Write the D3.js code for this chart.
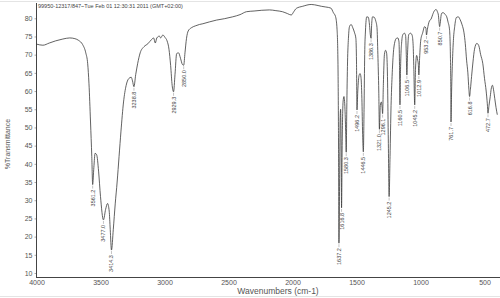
<!DOCTYPE html>
<html>
<head>
<meta charset="utf-8">
<script src="https://cdn.jsdelivr.net/npm/d3@7"></script>
<style>
  body { margin: 0; background: #fff; }
  svg { display: block; font-family: "Liberation Sans", Arial, sans-serif; }
</style>
</head>
<body>
<svg id="chart" width="500" height="298"></svg>
<script>
// spectrum: wavenumber (cm-1) and %T
const wavenumbers = [4000, 3950, 3900, 3850, 3794, 3740, 3700, 3670, 3640, 3615, 3600, 3590, 3578, 3568, 3561.2, 3552, 3542, 3530, 3515, 3500, 3477, 3460, 3445, 3432, 3424, 3414.3, 3400, 3385, 3370, 3355, 3340, 3320, 3300, 3280, 3260, 3250, 3238.8, 3225, 3210, 3190, 3160, 3130, 3100, 3085, 3072, 3060, 3040, 3030, 3013, 2995, 2980, 2965, 2952, 2940, 2929.3, 2918, 2905, 2890, 2875, 2860, 2850, 2840, 2828, 2815, 2790, 2760, 2727,
  2700, 2650, 2594, 2530, 2467, 2410, 2360, 2300, 2240, 2180, 2130, 2078, 2040, 2010, 1990, 1971, 1920, 1854, 1800, 1775, 1740, 1700, 1680, 1664, 1652, 1645, 1641, 1637.2, 1632, 1628, 1624, 1620, 1616.8, 1612, 1605, 1598, 1590, 1584, 1580.3, 1576, 1570, 1563, 1555, 1542, 1529, 1515, 1505, 1500, 1496.2, 1490, 1480, 1472, 1465, 1458, 1452, 1446.5, 1441, 1436, 1430, 1420, 1408, 1398, 1392, 1386.3, 1382, 1375, 1362, 1350, 1340, 1333, 1326, 1321, 1314, 1306, 1300, 1296.1, 1290, 1282, 1273, 1265, 1258, 1252, 1245.2, 1238, 1230, 1222, 1212, 1203, 1188, 1177, 1168, 1164, 1160.5, 1156, 1148, 1138, 1125, 1116, 1111, 1106.5, 1101, 1092, 1078, 1066, 1058, 1052, 1045.2, 1039, 1030, 1022, 1017, 1012.9, 1007, 998, 983, 968, 958, 953.2, 946, 930, 917, 905, 891, 878, 868, 860, 854, 850.7, 846, 838, 831, 820, 806, 795, 785, 773, 766, 763, 761.7, 757, 750, 742, 733, 720, 705, 690, 675, 660, 650, 640, 630, 622, 616.8, 610, 601, 590, 578, 560, 545, 530, 513, 500, 487, 478, 472.7, 465, 455, 448, 438, 430, 420, 410, 400];
const transmittance = [72.9, 72.6, 73.2, 73.8, 74.3, 74.6, 74.4, 73.9, 72.8, 70.5, 67.5, 62, 51.5, 42, 34.3, 39, 42.9, 42.5, 38, 31, 24.6, 27.5, 29.1, 27, 22, 16.3, 22, 29, 35, 42, 49, 57, 61.5, 63.4, 63.8, 62.8, 61.2, 64.5, 67.5, 70.5, 72.2, 73, 74.2, 74.6, 73.2, 74.6, 75.1, 74.6, 75.4, 74.7, 73.8, 71.5, 67, 61.5, 59.8, 64.5, 70.3, 70.5, 69, 67.3, 67.1, 70.5, 74.5, 76.5, 77.4, 77.9, 78.3,
  78.5, 79.0, 79.5, 79.9, 80.4, 81.0, 81.8, 82.0, 82.2, 82.3, 82.1, 81.8, 81.3, 80.9, 81.8, 82.7, 83.3, 83.8, 83.5, 83.3, 83.1, 82.8, 81.5, 80.5, 77, 68, 50, 18.2, 35, 52, 55, 45, 27.9, 45, 57, 58.5, 55, 48, 43.2, 55, 68, 74.5, 77.7, 78.3, 77.4, 76, 74.5, 68, 54.8, 60, 64.3, 64.8, 63.8, 58, 48, 43.3, 55, 70, 76.5, 80.4, 80.3, 78, 75.5, 74.5, 78, 80.4, 80.3, 79.3, 77.5, 70, 60, 49.5, 56, 57, 55.5, 53.8, 62, 70, 71.2, 70.5, 64, 48, 31, 42, 56, 64, 70.5, 73.1, 74.5, 74.6, 73.5, 67, 56.2, 66, 73, 75.5, 75.9, 75.2, 70, 64.4, 70.5, 75.5, 75.9, 75.4, 73, 66, 56.2, 66, 69.8, 68.5, 67.3, 64.4, 69, 74, 76, 77.7, 77.3, 75.4, 77, 79.3, 79.8, 81, 82.1, 82.4, 81.8, 80.8, 78.5, 77.7, 78.6, 81, 81.5, 81.5, 81, 80.4, 79, 76.8, 69, 60, 51.5, 60, 68.5, 74.5, 77.7, 80.2, 80.4, 79.6, 78.2, 76, 73, 68.5, 65, 60.5, 58.5, 60.5, 64, 68, 71.5, 73.1, 72.5, 70, 67.5, 63.5, 60, 56.5, 53.9, 56, 58.5, 60.5, 61.6, 60.5, 58, 55.5, 53.5];

// labelled peaks
const peakLabels = ["3561.2", "3477.0", "3414.3", "3238.8", "2929.3", "2850.0", "1637.2", "1616.8", "1580.3", "1496.2", "1446.5", "1386.3", "1321.0", "1296.1", "1245.2", "1160.5", "1106.5", "1045.2", "1012.9", "953.2", "850.7", "761.7", "616.8", "472.7"];
const peakTransmittance = [34.3, 24.6, 16.3, 61.2, 59.8, 67.1, 18.2, 27.9, 43.2, 54.8, 43.3, 74.5, 49.5, 53.8, 31, 56.2, 64.4, 56.2, 64.4, 75.4, 77.7, 51.5, 58.5, 53.9];

const yTicks = d3.range(10, 81, 5);
const xTicks = d3.range(4000, 499, -500);
const header = "99950-12317/847~Tue Feb 01 12:30:31 2011 (GMT+02:00)";

const svg = d3.select("#chart");
const ink = "#3a3a3a";

// 边框
svg.append("line").attr("x1", 0).attr("x2", 500).attr("y1", 1.5).attr("y2", 1.5)
  .attr("stroke", "#e4e4e4");
svg.append("line").attr("x1", 0).attr("x2", 500).attr("y1", 296.5).attr("y2", 296.5)
  .attr("stroke", "#e4e4e4");

const x = d3.scaleLinear().domain([4000, 400]).range([36.5, 497.3]);
const y = d3.scaleLinear().domain([8.9, 84.2]).range([277, 3]);

// y axis
const yAxis = svg.append("g")
  .attr("transform", "translate(36.5,0)")
  .call(d3.axisLeft(y).tickValues(yTicks).tickSize(2).tickPadding(2));
yAxis.select(".domain").remove();
yAxis.selectAll("line").attr("stroke", "#aaa");
yAxis.selectAll("text").attr("font-size", 7).attr("fill", "#555")
  .attr("font-family", "Liberation Sans, Arial, sans-serif");

// x axis
const xAxis = svg.append("g")
  .attr("transform", "translate(0,277)")
  .call(d3.axisBottom(x).tickValues(xTicks).tickFormat(d3.format("d")).tickSize(0).tickPadding(3));
xAxis.select(".domain").remove();
xAxis.selectAll("text").attr("font-size", 7).attr("fill", "#555")
  .attr("font-family", "Liberation Sans, Arial, sans-serif");

svg.append("line").attr("x1", 36.5).attr("x2", 36.5).attr("y1", 3).attr("y2", 277.5)
  .attr("stroke", "#444").attr("stroke-width", 1);
svg.append("line").attr("x1", 36).attr("x2", 500).attr("y1", 277.5).attr("y2", 277.5)
  .attr("stroke", "#444").attr("stroke-width", 1);

// titles
svg.append("text").attr("x", 278).attr("y", 294).attr("text-anchor", "middle")
  .attr("font-size", 8.5).attr("fill", "#555").text("Wavenumbers (cm-1)");
svg.append("text").attr("transform", "translate(10,144) rotate(-90)")
  .attr("text-anchor", "middle").attr("font-size", 7).attr("fill", "#555")
  .text("%Transmittance");
svg.append("text").attr("x", 38).attr("y", 7.5).attr("font-size", 5.5)
  .attr("fill", "#444").text(header);

// spectrum
const pts = wavenumbers.map((w, i) => [w, transmittance[i]]);
const line = d3.line().x(d => x(d[0])).y(d => y(d[1])).curve(d3.curveMonotoneX);
svg.append("path").datum(pts)
  .attr("d", line)
  .attr("fill", "none")
  .attr("stroke", ink)
  .attr("stroke-width", 0.8);

// peak labels
const peaks = svg.append("g");
peakLabels.forEach((lab, i) => {
  const px = x(+lab), py = y(peakTransmittance[i]);
  peaks.append("line").attr("x1", px).attr("x2", px).attr("y1", py + 1).attr("y2", py + 4)
    .attr("stroke", "#888").attr("stroke-width", 0.5);
  peaks.append("text")
    .attr("transform", `translate(${px + 2},${py + 5}) rotate(-90)`)
    .attr("text-anchor", "end")
    .attr("font-size", 5.5)
    .attr("fill", "#444")
    .text(lab);
});
</script>
</body>
</html>
